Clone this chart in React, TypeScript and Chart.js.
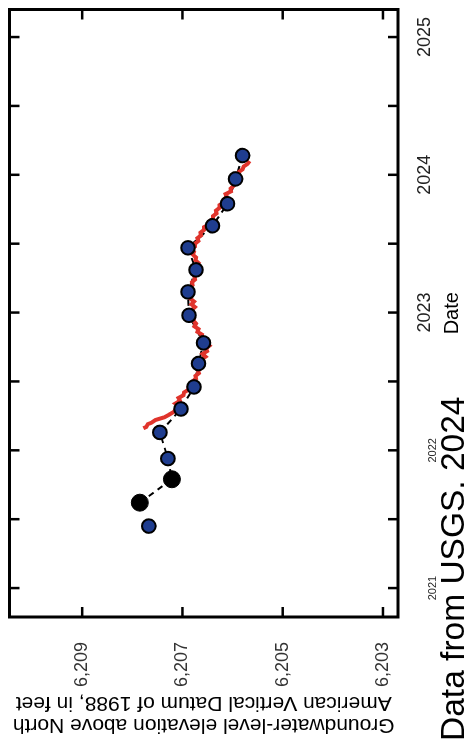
import React, { useEffect, useRef } from 'react';
import { Chart, registerables } from 'chart.js';

Chart.register(...registerables);

const FONT = '"Liberation Sans", Arial, Helvetica, sans-serif';

// Periodic groundwater-level measurements (blue circles)
const blueDates = [2021.45, 2021.94, 2022.13, 2022.30, 2022.46, 2022.63, 2022.78, 2022.98, 2023.15, 2023.31, 2023.47, 2023.63, 2023.79, 2023.97, 2024.14];
const blueElev = [6207.67, 6207.29, 6207.45, 6207.03, 6206.77, 6206.68, 6206.58, 6206.87, 6206.89, 6206.73, 6206.89, 6206.40, 6206.10, 6205.94, 6205.80];

// Other measurements (black circles)
const blackDates = [2021.62, 2021.79];
const blackElev = [6207.85, 6207.21];

// Continuous record (red line)
const redDates = [2022.16, 2022.17, 2022.19, 2022.20, 2022.22, 2022.24, 2022.26, 2022.28, 2022.30, 2022.32, 2022.34, 2022.36, 2022.38, 2022.40, 2022.42, 2022.44, 2022.46, 2022.48, 2022.50, 2022.52, 2022.54, 2022.56, 2022.58, 2022.60, 2022.62, 2022.64, 2022.66, 2022.68, 2022.70, 2022.72, 2022.74, 2022.76, 2022.78, 2022.80, 2022.82, 2022.84, 2022.86, 2022.88, 2022.90, 2022.92, 2022.94, 2022.96, 2022.98, 2023.00, 2023.02, 2023.04, 2023.06, 2023.08, 2023.10, 2023.12, 2023.14, 2023.16, 2023.18, 2023.20, 2023.22, 2023.24, 2023.26, 2023.28, 2023.30, 2023.32, 2023.34, 2023.36, 2023.38, 2023.40, 2023.42, 2023.44, 2023.46, 2023.48, 2023.50, 2023.52, 2023.54, 2023.56, 2023.58, 2023.60, 2023.62, 2023.64, 2023.66, 2023.68, 2023.70, 2023.72, 2023.74, 2023.76, 2023.78, 2023.80, 2023.82, 2023.84, 2023.86, 2023.88, 2023.90, 2023.92, 2023.94, 2023.96, 2023.98, 2024.00, 2024.02, 2024.04, 2024.06, 2024.08, 2024.10];
const redElev = [6207.78, 6207.72, 6207.69, 6207.62, 6207.54, 6207.36, 6207.26, 6207.17, 6207.13, 6207.06, 6207.14, 6207.05, 6207.08, 6206.98, 6206.97, 6206.88, 6206.88, 6206.80, 6206.80, 6206.73, 6206.74, 6206.67, 6206.69, 6206.62, 6206.69, 6206.59, 6206.62, 6206.54, 6206.60, 6206.51, 6206.53, 6206.46, 6206.52, 6206.53, 6206.62, 6206.61, 6206.70, 6206.68, 6206.76, 6206.73, 6206.78, 6206.77, 6206.85, 6206.80, 6206.81, 6206.75, 6206.82, 6206.77, 6206.84, 6206.82, 6206.89, 6206.86, 6206.87, 6206.80, 6206.81, 6206.75, 6206.76, 6206.70, 6206.73, 6206.67, 6206.73, 6206.68, 6206.74, 6206.73, 6206.79, 6206.77, 6206.83, 6206.75, 6206.75, 6206.68, 6206.70, 6206.63, 6206.64, 6206.57, 6206.57, 6206.47, 6206.47, 6206.39, 6206.39, 6206.32, 6206.33, 6206.26, 6206.26, 6206.17, 6206.18, 6206.12, 6206.14, 6206.03, 6206.04, 6205.98, 6205.99, 6205.93, 6205.94, 6205.87, 6205.88, 6205.80, 6205.78, 6205.70, 6205.66];

// Axis ticks
const dateTickValues = [2021, 2021.5, 2022, 2022.5, 2023, 2023.5, 2024, 2024.5, 2025];
const dateTickLabels = ['2021', '', '2022', '', '2023', '', '2024', '', '2025'];
const elevTickValues = [6203, 6205, 6207, 6209];
const elevTickLabels = ['6,203', '6,205', '6,207', '6,209'];

const yTitle = ['Groundwater-level elevation above North', 'American Vertical Datum of 1988, in feet'];
const xTitle = 'Date';
const caption = 'Data from USGS, 2024';

const framePlugin = {
  id: 'frameTicks',
  afterDraw(chart: any) {
    const { ctx, chartArea: a, scales } = chart;
    const x = scales.x;
    const y = scales.y;
    ctx.save();
    ctx.strokeStyle = '#000';
    ctx.lineCap = 'butt';
    ctx.lineWidth = 2.5;
    const L = 10;
    const seg = (x1: number, y1: number, x2: number, y2: number) => {
      ctx.beginPath();
      ctx.moveTo(x1, y1);
      ctx.lineTo(x2, y2);
      ctx.stroke();
    };
    dateTickValues.forEach((v) => {
      const px = x.getPixelForValue(v);
      seg(px, a.bottom, px, a.bottom - L);
      seg(px, a.top, px, a.top + L);
    });
    elevTickValues.forEach((v) => {
      const py = y.getPixelForValue(v);
      seg(a.left, py, a.left + L, py);
      seg(a.right, py, a.right - L, py);
    });
    ctx.lineWidth = 3;
    ctx.strokeRect(a.left, a.top, a.right - a.left, a.bottom - a.top);
    ctx.font = `33.5px ${FONT}`;
    ctx.fillStyle = '#000';
    ctx.textAlign = 'left';
    ctx.textBaseline = 'alphabetic';
    ctx.fillText(caption, 3, chart.height);
    ctx.restore();
  },
};

export default function App() {
  const ref = useRef<HTMLCanvasElement | null>(null);

  useEffect(() => {
    if (!ref.current) return;
    Chart.defaults.font.family = FONT;
    const bluePts = blueDates.map((d, i) => ({ x: d, y: blueElev[i] }));
    const blackPts = blackDates.map((d, i) => ({ x: d, y: blackElev[i] }));
    const redPts = redDates.map((d, i) => ({ x: d, y: redElev[i] }));
    const dashedPts = [...blackPts, ...bluePts.filter((p) => p.x > blackDates[blackDates.length - 1])];

    const chart = new Chart(ref.current, {
      type: 'scatter',
      data: {
        datasets: [
          {
            label: 'dashed',
            data: dashedPts,
            showLine: true,
            borderColor: '#000',
            borderWidth: 2,
            borderDash: [6, 5],
            pointRadius: 0,
            order: 3,
          },
          {
            label: 'continuous',
            data: redPts,
            showLine: true,
            borderColor: '#e0342c',
            borderWidth: 4,
            pointRadius: 0,
            order: 2,
          },
          {
            label: 'other',
            data: blackPts,
            pointRadius: 8.5,
            pointBackgroundColor: '#000',
            pointBorderColor: '#000',
            pointBorderWidth: 1,
            order: 1,
          },
          {
            label: 'periodic',
            data: bluePts,
            pointRadius: 6.8,
            pointBackgroundColor: '#1f3d8f',
            pointBorderColor: '#000',
            pointBorderWidth: 2,
            order: 0,
          },
        ],
      },
      options: {
        responsive: false,
        animation: false,
        devicePixelRatio: 1,
        layout: { padding: { left: 0, right: 4, top: 8, bottom: 0 } },
        plugins: { legend: { display: false }, tooltip: { enabled: false } },
        scales: {
          x: {
            type: 'linear',
            min: 2020.79,
            max: 2025.2,
            afterBuildTicks: (s: any) => {
              s.ticks = dateTickValues.map((v) => ({ value: v }));
            },
            afterFit: (s: any) => {
              s.height = 66;
              s.paddingLeft = 0;
              s.paddingRight = 0;
            },
            grid: { display: false, drawTicks: false },
            border: { display: false },
            ticks: {
              autoSkip: false,
              maxRotation: 0,
              minRotation: 0,
              padding: 16,
              color: '#222',
              font: (c: any) =>
                dateTickValues[c.index] < 2022.5
                  ? { size: 11, lineHeight: 3.45, family: FONT }
                  : { size: 18, family: FONT },
              callback: (_v: any, i: number) => dateTickLabels[i],
            },
            title: {
              display: true,
              text: xTitle,
              color: '#000',
              font: { size: 20, family: FONT },
              padding: { top: 0, bottom: 0 },
            },
          },
          y: {
            type: 'linear',
            min: 6202.7,
            max: 6210.45,
            afterBuildTicks: (s: any) => {
              s.ticks = elevTickValues.map((v) => ({ value: v }));
            },
            afterFit: (s: any) => {
              s.width = 127;
              s.paddingTop = 0;
              s.paddingBottom = 0;
            },
            grid: { display: false, drawTicks: false },
            border: { display: false },
            ticks: {
              autoSkip: false,
              padding: 25,
              color: '#333',
              font: { size: 18, family: FONT },
              callback: (_v: any, i: number) => elevTickLabels[i],
            },
            title: {
              display: true,
              text: yTitle,
              color: '#000',
              font: { size: 21, lineHeight: 22 / 21, family: FONT },
              padding: { top: 8, bottom: 0 },
            },
          },
        },
      },
      plugins: [framePlugin],
    });
    return () => chart.destroy();
  }, []);

  return (
    <div
      style={{
        position: 'fixed',
        left: 0,
        top: 0,
        width: 744,
        height: 464,
        background: '#fff',
        transformOrigin: '0 0',
        transform: 'translateY(744px) rotate(-90deg)',
      }}
    >
      <canvas ref={ref} width={744} height={464} style={{ display: 'block', width: 744, height: 464 }} />
    </div>
  );
}
